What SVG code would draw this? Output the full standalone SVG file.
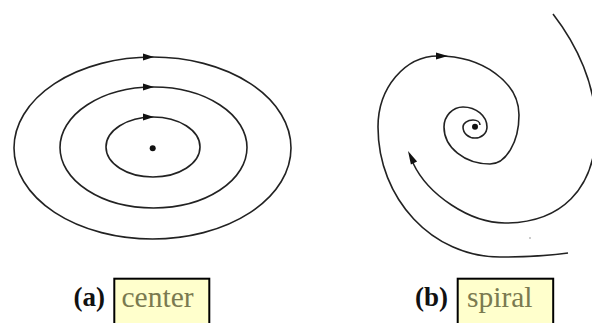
<svg xmlns="http://www.w3.org/2000/svg" width="592" height="323" viewBox="0 0 592 323">
  <style>
    .orbit { fill: none; stroke: #222; stroke-width: 1.6; }
    .head { fill: #111; stroke: none; }
    .dot { fill: #111; }
    .box { fill: #ffffcc; stroke: #000; stroke-width: 2; }
    .tag { font-family: "Liberation Serif", "Times New Roman", serif; font-size: 27px; font-weight: bold; fill: #111; }
    .name { font-family: "Liberation Serif", "Times New Roman", serif; font-size: 29.5px; fill: #7a7a50; }
  </style>
  <rect width="592" height="323" fill="#fff"/>

  <g id="center-portrait">
    <ellipse class="orbit" cx="152.5" cy="148" rx="138.5" ry="91"/>
    <ellipse class="orbit" cx="153.5" cy="147.5" rx="93.5" ry="60.5"/>
    <ellipse class="orbit" cx="153" cy="147" rx="47" ry="30"/>
    <polygon class="head" points="143,53.5 154,57 143,60.5"/>
    <polygon class="head" points="143,83.5 154,87 143,90.5"/>
    <polygon class="head" points="143,113.5 154,117 143,120.5"/>
    <circle class="dot" cx="152.7" cy="148.3" r="3"/>
  </g>

  <g id="spiral-portrait">
    <path class="orbit" d="M568,253 C545,256 522,257 500,257 C432.6,257 378,198.8 378,127 C378,87.8 404.9,56 438,56 C482.7,56 519,82.4 519,115 C519,142.1 506,164 490,164 C464.6,164 444,147.4 444,127 C444,116 452.5,107 463,107 C476.3,107 487,116 487,127 C487,133.1 481.6,138 475,138 C468.4,138 463,133.1 463,127 C463,123.1 467.5,120 473,120 C477,120 480,122 480,125"/>
    <path class="orbit" d="M553,14 C577,45 596,85 596,128 C596,190 560,223 505,223 C470,223 428,195 413,163"/>
    <polygon class="head" points="436,52.5 448,56 436,59.5"/>
    <polygon class="head" points="408,151 417.1,161.4 410.9,164.6"/>
    <circle class="dot" cx="475" cy="126.7" r="3"/>
    <circle cx="530" cy="238" r="1" fill="#bbb"/>
  </g>

  <g id="label-a">
    <text class="tag" x="73.5" y="306">(a)</text>
    <rect class="box" x="114.3" y="278.7" width="95" height="60"/>
    <text class="name" x="121.5" y="307">center</text>
  </g>

  <g id="label-b">
    <text class="tag" x="415" y="306">(b)</text>
    <rect class="box" x="457.7" y="278.7" width="95.5" height="60"/>
    <text class="name" x="467" y="307">spiral</text>
  </g>
</svg>
